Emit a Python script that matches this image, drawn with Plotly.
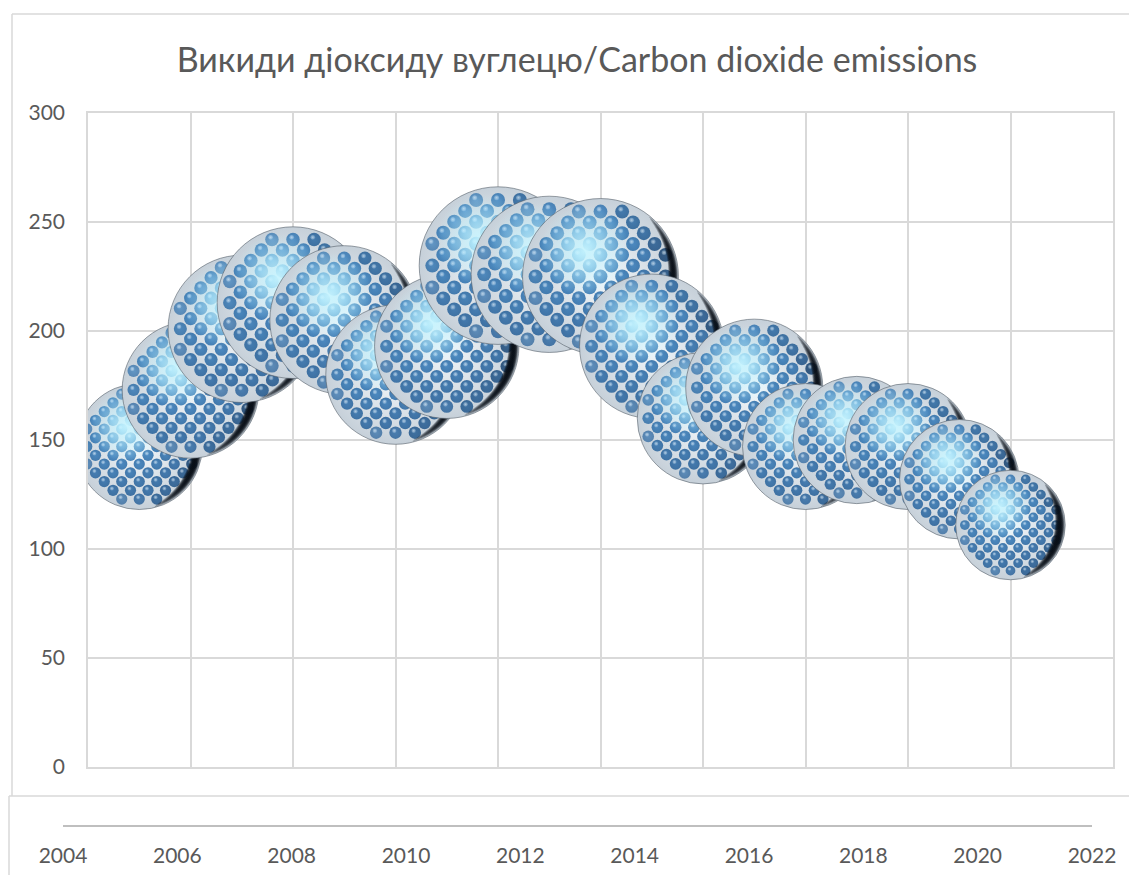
import math
import plotly.graph_objects as go

# ---- data ----
years = [2005, 2006, 2007, 2008, 2009, 2010, 2011, 2012, 2013, 2014, 2015, 2016, 2017, 2018, 2019, 2020, 2021, 2022]
emissions = [147, 173, 201, 213, 205, 180, 193, 230, 226, 225, 193, 160, 174, 147, 150, 147, 132, 111]
y_ticks = [0, 50, 100, 150, 200, 250, 300]
x_ticks = [2004, 2006, 2008, 2010, 2012, 2014, 2016, 2018, 2020, 2022]
title_text = "Викиди діоксиду вуглецю/Carbon dioxide emissions"

# ---- layout geometry (pixels in a 1129x875 page) ----
FW, FH = 1129, 875
ML, MR, MT, MB = 30, 10, 10, 10
W, H = FW - ML - MR, FH - MT - MB
def px(x): return (x - ML) / W
def py(y): return 1 - (y - MT) / H
PL, PR, PT, PB = 88, 1113, 113, 767
PX_PER_YEAR = (PR - PL) / 20
PX_PER_UNIT = (PB - PT) / 300
K = 27.0  # r^2 = K * value

GRID = "#d9d9d9"
TXT = "#595959"
FONT = "Lato, 'Open Sans', sans-serif"

def mix(a, b, t):
    t = max(0, min(1, t))
    return tuple(a[i] + (b[i] - a[i]) * t for i in range(3))
def css(c): return "rgb(%d,%d,%d)" % tuple(round(v) for v in c)

LIGHT = (125, 205, 245)
MID = (80, 146, 202)
DEEP = (68, 122, 174)
DARK = (34, 56, 84)

def dot_colour(dx, dy, r):
    s = math.hypot(dx + 0.2 * r, dy + 0.33 * r) / r
    if s < 0.4:
        c = mix(LIGHT, MID, s / 0.4)
    else:
        c = mix(MID, DEEP, (s - 0.4) / 0.6)
    e = math.hypot(dx, dy) / r
    if e > 0.7 and dx > 0:
        c = mix(c, DARK, (e - 0.7) / 0.3 * (dx / (e * r)) * 0.8)
    if e > 0.82 and dx <= 0.2 * r:
        c = mix(c, (170, 195, 216), (e - 0.82) / 0.18 * 0.75)
    return c

fig = go.Figure()

for yr, val in zip(years, emissions):
    r = math.sqrt(K * val)
    # the bubble itself, sized from the value
    fig.add_trace(go.Scatter(
        x=[yr], y=[val], mode="markers", showlegend=False, hoverinfo="x+y",
        marker=dict(size=[val], sizemode="area", sizeref=1 / (2 * K), opacity=1,
                    color="#c6d0d9", line=dict(width=0.8, color="rgba(85,95,105,0.75)"),
                    gradient=dict(type="radial", color="#f4f8fb")),
    ))
    xs, ys, ss, cs, gc = [], [], [], [], []
    def put(dx, dy, d, edge, centre):
        xs.append(yr + dx / PX_PER_YEAR); ys.append(val - dy / PX_PER_UNIT)
        ss.append(d); cs.append(edge); gc.append(centre)
    pitch = 2 * r / 7.2
    n = int(r / (pitch / 2)) + 2
    dots = []
    for i in range(-n, n + 1):
        for j in range(-n, n + 1):
            if (i + j) % 2:
                continue
            dx, dy = i * pitch / 2, j * pitch / 2
            dist = math.hypot(dx, dy)
            if dist > r - 1.5:
                continue
            d = min(pitch * 0.64, 2 * (r - dist))
            dots.append((dx, dy, d))
    for dx, dy, d in dots:
        c = dot_colour(dx, dy, r)
        put(dx, dy, d, css(mix(c, (28, 55, 90), 0.15)), css(c))
    for dx, dy, d in dots:
        c = dot_colour(dx, dy, r)
        put(dx - d * 0.1, dy - d * 0.16, d * 0.36,
            css(mix(c, (215, 235, 250), 0.2)), css(mix(c, (235, 245, 252), 0.65)))
    # dark limb, about one to five o'clock
    steps = int(r * 1.4)
    for k in range(steps + 1):
        a = math.radians(-50 + 125 * k / steps)
        w = max(0.0, math.sin(math.pi * k / steps)) ** 0.7
        d = 2 + 9 * w
        rr = r - d / 2
        put(rr * math.cos(a), rr * math.sin(a), d, "rgba(8,14,22,0.0)", "rgba(8,14,22,%.2f)" % (0.3 + 0.5 * w))
    fig.add_trace(go.Scatter(
        x=xs, y=ys, mode="markers", showlegend=False, hoverinfo="skip",
        marker=dict(size=ss, sizemode="diameter", color=cs, opacity=1, line=dict(width=0),
                    gradient=dict(type="radial", color=gc)),
    ))
    # soft highlight, upper left of centre
    fig.add_trace(go.Scatter(
        x=[yr - 0.2 * r / PX_PER_YEAR], y=[val + 0.33 * r / PX_PER_UNIT],
        mode="markers", showlegend=False, hoverinfo="skip",
        marker=dict(size=1.15 * r, color="rgba(185,240,255,0)", opacity=1, line=dict(width=0),
                    gradient=dict(type="radial", color="rgba(200,245,255,0.95)")),
    ))

# lower, detached year axis carrying a second invisible y axis
fig.add_trace(go.Scatter(x=[2004, 2022], y=[0, 0], xaxis="x2", yaxis="y2", mode="lines",
                         line=dict(width=0), showlegend=False, hoverinfo="skip"))

shapes = [
    dict(type="line", xref="paper", yref="paper", x0=px(12), x1=px(12), y0=py(14), y1=py(796)),
    dict(type="line", xref="paper", yref="paper", x0=px(12), x1=px(1129), y0=py(14), y1=py(14)),
    dict(type="line", xref="paper", yref="paper", x0=px(9), x1=px(1129), y0=py(796), y1=py(796)),
    dict(type="line", xref="paper", yref="paper", x0=px(9), x1=px(9), y0=py(796), y1=py(875)),
]
for s in shapes:
    s["line"] = dict(color=GRID, width=1.5)
    s["layer"] = "below"

fig.update_layout(
    width=FW, height=FH, margin=dict(l=ML, r=MR, t=MT, b=MB, autoexpand=False),
    paper_bgcolor="white", plot_bgcolor="white", showlegend=False,
    font=dict(family=FONT, color=TXT, size=21),
    title=dict(text=title_text, x=577 / FW, xanchor="center", y=1 - 60 / FH, yanchor="middle",
               font=dict(family=FONT, size=34, color=TXT)),
    shapes=shapes,
    xaxis=dict(domain=[px(PL), px(PR)], range=[2004, 2024], dtick=2, tick0=2004,
               showticklabels=False, showgrid=True, gridcolor=GRID, gridwidth=1.5,
               showline=True, linecolor=GRID, linewidth=1.5, mirror=True, zeroline=False,
               ticks="", anchor="y"),
    yaxis=dict(domain=[py(PB), py(PT)], range=[0, 300], tickvals=y_ticks,
               showgrid=True, gridcolor=GRID, gridwidth=1.5, zeroline=False,
               showline=True, linecolor=GRID, linewidth=1.5, mirror=True,
               ticks="outside", ticklen=17, tickcolor="rgba(0,0,0,0)", anchor="x",
               tickfont=dict(family=FONT, size=21, color=TXT)),
    xaxis2=dict(domain=[px(63), px(1092)], range=[2004, 2022], tickvals=x_ticks,
                showgrid=False, zeroline=False, showline=True, linecolor="#bfbfbf", linewidth=1.5,
                ticks="outside", ticklen=11, tickcolor="rgba(0,0,0,0)", anchor="y2",
                tickfont=dict(family=FONT, size=21, color=TXT)),
    yaxis2=dict(domain=[py(825), py(820)], range=[0, 1], visible=False, anchor="x2"),
)

fig.write_html("out.html", config=dict(displayModeBar=False),
               post_script="document.body.style.margin='0';")
